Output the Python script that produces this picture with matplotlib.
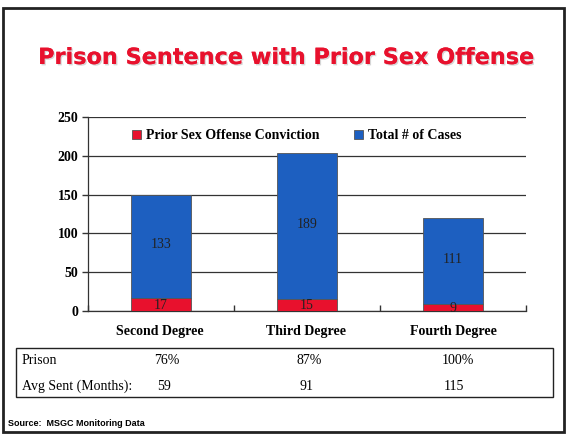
import matplotlib
matplotlib.use('Agg')
import matplotlib.pyplot as plt
from matplotlib.patches import Rectangle
import matplotlib.patheffects as pe

# data
categories = ['Second Degree', 'Third Degree', 'Fourth Degree']
prior_sex = [17, 15, 9]
other_cases = [133, 189, 111]
prison_pct = ['76%', '87%', '100%']
avg_sent = ['59', '91', '115']

RED = '#E8112D'
BLUE = '#1D5FC0'
W, H = 571, 434

fig = plt.figure(figsize=(W / 100, H / 100), dpi=100)
fig.patch.set_facecolor('white')


def fx(px):
    return px / W


def fy(py):
    return 1 - py / H


# outer frame
fig.patches.append(Rectangle((fx(3), fy(432)), fx(561), 424 / H, transform=fig.transFigure,
                             fill=False, edgecolor='#222222', linewidth=2))

fig.text(fx(286), fy(58), 'Prison Sentence with Prior Sex Offense', ha='center', va='center',
         fontsize=16.1, fontweight='bold', color=RED, family='DejaVu Sans',
         path_effects=[pe.withSimplePatchShadow(offset=(1, -1), shadow_rgbFace='#bbbbbb', alpha=0.6),
                       pe.Normal()])

ax = fig.add_axes([fx(88), fy(311), fx(526 - 88), (311 - 117) / H])
x = range(len(categories))
b1 = ax.bar(x, prior_sex, width=0.41, color=RED, edgecolor='#555555', linewidth=0.6,
            label='Prior Sex Offense Conviction', zorder=3)
b2 = ax.bar(x, other_cases, width=0.41, bottom=prior_sex, color=BLUE, edgecolor='#555555',
            linewidth=0.6, label='Total # of Cases', zorder=3)

serif = 'Liberation Serif'
for i in x:
    ax.text(i, prior_sex[i] / 2 - 1, str(prior_sex[i]), ha='center', va='center',
            fontsize=10, family=serif, color='#222222', zorder=4)
    ax.text(i, prior_sex[i] + other_cases[i] / 2 + 2, str(other_cases[i]), ha='center',
            va='center', fontsize=10, family=serif, color='#222222', zorder=4)

ax.set_xlim(-0.5, 2.5)
ax.set_ylim(0, 250)
ax.set_yticks([0, 50, 100, 150, 200, 250])
ax.yaxis.grid(True, color='#333333', linewidth=0.9, zorder=0)
ax.set_axisbelow(True)
ax.set_xticks([-0.5, 0.5, 1.5, 2.5])
ax.set_xticklabels([])
ax.tick_params(axis='x', direction='in', length=4, width=1, color='#333333')
ax.tick_params(axis='y', direction='out', length=4, width=1, color='#333333', pad=3)
for lab in ax.get_yticklabels():
    lab.set_family(serif)
    lab.set_fontweight('bold')
    lab.set_fontsize(10)
for s in ['left', 'bottom', 'top', 'right']:
    ax.spines[s].set_color('#333333')
    ax.spines[s].set_linewidth(0.9)
ax.spines['top'].set_visible(False)
ax.spines['right'].set_visible(False)

ax.legend(handles=[b1, b2], loc='upper center', ncol=2, frameon=False,
          bbox_to_anchor=(0.477, 1.0), handlelength=0.6, handleheight=0.6,
          handletextpad=0.4, columnspacing=2.5,
          prop={'family': serif, 'weight': 'bold', 'size': 10})

# category labels
for i, c in enumerate(categories):
    fig.text(fx(160 + 146.5 * i), fy(332), c, ha='center', va='center', fontsize=10,
             fontweight='bold', family=serif)

# table box
fig.patches.append(Rectangle((fx(16), fy(397)), fx(553 - 16), (397 - 348) / H,
                             transform=fig.transFigure, fill=False, edgecolor='#222222', linewidth=1))
fig.text(fx(22), fy(360), 'Prison', ha='left', va='center', fontsize=10, family=serif)
fig.text(fx(22), fy(386), 'Avg Sent (Months):', ha='left', va='center', fontsize=10, family=serif)
pct_x = [167, 309, 458]
sent_x = [164, 306, 454]
for i in range(len(categories)):
    fig.text(fx(pct_x[i]), fy(360), prison_pct[i], ha='center', va='center',
             fontsize=10, family=serif)
    fig.text(fx(sent_x[i]), fy(386), avg_sent[i], ha='center', va='center',
             fontsize=10, family=serif)

fig.text(fx(8), fy(424), 'Source:  MSGC Monitoring Data', ha='left', va='center',
         fontsize=6.5, fontweight='bold', family='Liberation Sans')

fig.savefig('out.png', dpi=100)
